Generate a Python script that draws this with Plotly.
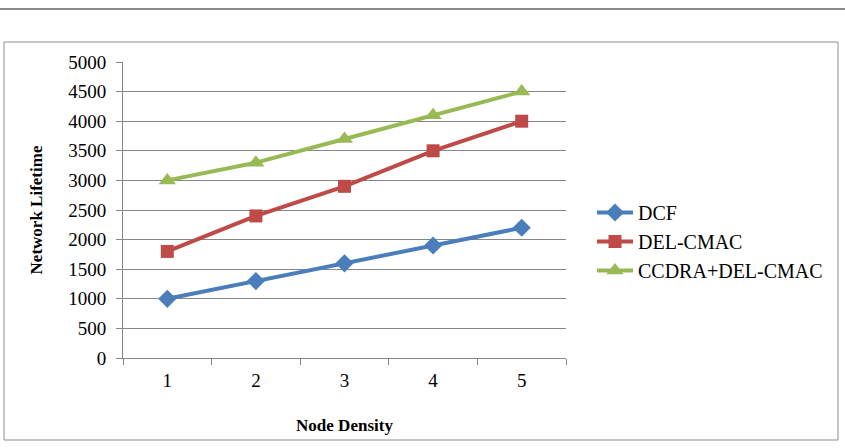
import plotly.graph_objects as go

categories = ["1", "2", "3", "4", "5"]
dcf = [1000, 1300, 1600, 1900, 2200]
del_cmac = [1800, 2400, 2900, 3500, 4000]
ccdra = [3000, 3300, 3700, 4100, 4500]
y_ticks = [0, 500, 1000, 1500, 2000, 2500, 3000, 3500, 4000, 4500, 5000]

W, H = 845, 448
L, R, T, B = 123, 279, 62, 90
pw = W - L - R
ph = H - T - B

def px(x):
    return (x - L) / pw

def py(y):
    return (H - B - y) / ph

font_serif = "Liberation Serif"

fig = go.Figure()
series = [
    ("DCF", dcf, "#4A7EBB", "diamond", 14),
    ("DEL-CMAC", del_cmac, "#BE4B48", "square", 13),
    ("CCDRA+DEL-CMAC", ccdra, "#98B954", "triangle-up", 15),
]
for i, (name, vals, col, sym, sz) in enumerate(series):
    fig.add_trace(go.Scatter(
        x=categories, y=vals, name=name, mode="lines+markers",
        line=dict(color=col, width=4),
        marker=dict(symbol=sym, size=sz, color=col),
        legendgroup=str(i),
    ))

fig.update_layout(
    width=W, height=H,
    margin=dict(l=L, r=R, t=T, b=B, autoexpand=False),
    paper_bgcolor="white", plot_bgcolor="white",
    font=dict(family=font_serif, size=19, color="black"),
    showlegend=True,
    legend=dict(x=px(592), y=py(193), xanchor="left", yanchor="top",
                font=dict(size=20, family=font_serif), tracegroupgap=0, itemwidth=36,
                bgcolor="rgba(0,0,0,0)"),
    xaxis=dict(type="category", range=[-0.5, 4.5], tickson="boundaries", ticks="outside", ticklen=6,
               tickcolor="#868686", showline=True, linecolor="#868686", linewidth=1,
               showgrid=False, zeroline=False, ticklabelstandoff=5,
               tickfont=dict(size=19, family=font_serif, color="black"),
               title=dict(text="<b>Node Density</b>", font=dict(size=17, family=font_serif), standoff=29)),
    yaxis=dict(range=[0, 5000], tickvals=y_ticks, ticks="outside", ticklen=6,
               tickcolor="#868686", showline=True, linecolor="#868686", linewidth=1,
               showgrid=True, gridcolor="#868686", gridwidth=1, zeroline=False,
               ticklabelstandoff=6,
               tickfont=dict(size=19, family=font_serif, color="black"),
               title=dict(text="<b>Network Lifetime</b>", font=dict(size=17, family=font_serif), standoff=21)),
    shapes=[
        dict(type="line", xref="paper", yref="paper", x0=px(0), x1=px(845), y0=py(9), y1=py(9),
             line=dict(color="#8C8C8C", width=2)),
        dict(type="rect", xref="paper", yref="paper", x0=px(4), x1=px(838), y0=py(42), y1=py(440),
             line=dict(color="#8C8C8C", width=1)),
    ],
)

fig.write_html("out.html")
